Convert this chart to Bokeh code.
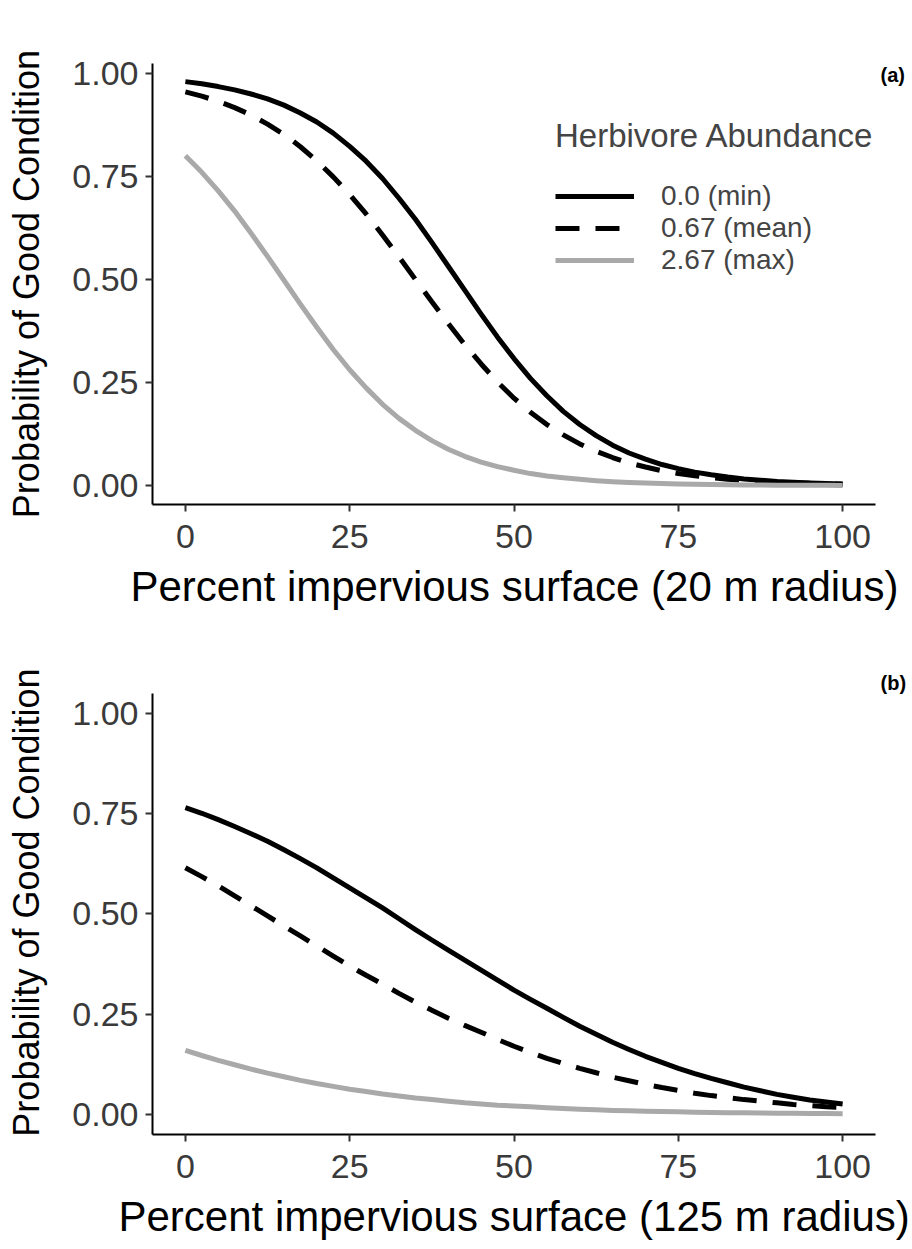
from bokeh.plotting import figure
from bokeh.layouts import column
from bokeh.models import Range1d, FixedTicker, Legend, LegendItem, Label, Title
from bokeh.embed import file_html
from bokeh.resources import INLINE

# ---- data ----
x_pct = [0, 2.5, 5, 7.5, 10, 12.5, 15, 17.5, 20, 22.5, 25, 27.5, 30, 32.5, 35, 37.5, 40,
         42.5, 45, 47.5, 50, 52.5, 55, 57.5, 60, 62.5, 65, 67.5, 70, 72.5, 75, 77.5, 80,
         82.5, 85, 87.5, 90, 92.5, 95, 97.5, 100]

# panel (a): 20 m radius
a_min = [0.980, 0.975, 0.968, 0.960, 0.950, 0.938, 0.923, 0.904, 0.882, 0.855,
         0.823, 0.787, 0.745, 0.697, 0.646, 0.590, 0.532, 0.474, 0.416, 0.360,
         0.308, 0.260, 0.218, 0.180, 0.148, 0.121, 0.098, 0.079, 0.064, 0.051,
         0.041, 0.0325, 0.026, 0.0205, 0.016, 0.0129, 0.010, 0.0081, 0.0064, 0.0051,
         0.0040]
a_mean = [0.955, 0.945, 0.932, 0.917, 0.899, 0.877, 0.852, 0.822, 0.788, 0.749,
          0.706, 0.659, 0.608, 0.555, 0.500, 0.446, 0.393, 0.342, 0.295, 0.251,
          0.212, 0.178, 0.148, 0.123, 0.101, 0.083, 0.068, 0.055, 0.045, 0.036,
          0.029, 0.024, 0.019, 0.0155, 0.0125, 0.0101, 0.0081, 0.0065, 0.0053, 0.0042,
          0.0034]
a_max = [0.800, 0.760, 0.715, 0.666, 0.612, 0.556, 0.498, 0.440, 0.384, 0.330,
         0.281, 0.237, 0.197, 0.163, 0.134, 0.109, 0.088, 0.071, 0.057, 0.046,
         0.037, 0.029, 0.023, 0.0187, 0.015, 0.0118, 0.0094, 0.0075, 0.0059, 0.0047,
         0.0037, 0.0030, 0.0023, 0.0019, 0.0015, 0.0012, 0.0009, 0.0007, 0.0006, 0.0005,
         0.0004]

# panel (b): 125 m radius
b_min = [0.765, 0.751, 0.735, 0.718, 0.700, 0.681, 0.660, 0.638, 0.615, 0.590,
         0.565, 0.540, 0.515, 0.488, 0.461, 0.435, 0.410, 0.385, 0.360, 0.335,
         0.310, 0.287, 0.265, 0.242, 0.220, 0.200, 0.180, 0.162, 0.145, 0.130,
         0.115, 0.102, 0.090, 0.079, 0.068, 0.059, 0.050, 0.043, 0.036, 0.031,
         0.026]
b_mean = [0.615, 0.593, 0.570, 0.545, 0.520, 0.495, 0.470, 0.445, 0.420, 0.395,
          0.370, 0.347, 0.325, 0.302, 0.280, 0.260, 0.240, 0.222, 0.205, 0.187,
          0.170, 0.155, 0.140, 0.127, 0.115, 0.104, 0.093, 0.084, 0.075, 0.067,
          0.060, 0.053, 0.047, 0.042, 0.037, 0.033, 0.029, 0.025, 0.022, 0.019,
          0.017]
b_max = [0.160, 0.147, 0.135, 0.124, 0.113, 0.103, 0.094, 0.085, 0.077, 0.070,
         0.063, 0.057, 0.051, 0.046, 0.041, 0.037, 0.033, 0.029, 0.026, 0.023,
         0.021, 0.019, 0.017, 0.015, 0.013, 0.0115, 0.010, 0.009, 0.008, 0.0072,
         0.0065, 0.0057, 0.005, 0.0045, 0.004, 0.0035, 0.003, 0.0028, 0.0025, 0.0022,
         0.002]

series_labels = ["0.0 (min)", "0.67 (mean)", "2.67 (max)"]
legend_title = "Herbivore Abundance"
x_ticks = [0, 25, 50, 75, 100]
x_tick_labels = ["0", "25", "50", "75", "100"]
y_ticks = [0, 0.25, 0.5, 0.75, 1.0]
y_tick_labels = ["0.00", "0.25", "0.50", "0.75", "1.00"]
y_title = "Probability of Good Condition"
x_titles = ["Percent impervious surface (20 m radius)", "Percent impervious surface (125 m radius)"]
panel_tags = ["(a)", "(b)"]

FONT = "Liberation Sans"
GRAY = "#A9A9A9"
X_LIMITS = (-5, 105)


def make_panel(height, mt, mb, y_range, y_bounds, x_title, title_offset, title_standoff,
               ys, tag, tag_y, show_legend):
    # frame spans 152..912 px; x data -5..105 occupy 152..875 px (723 px)
    x_end = X_LIMITS[0] + 760 * (X_LIMITS[1] - X_LIMITS[0]) / 723.0
    p = figure(width=912, height=height, x_range=Range1d(X_LIMITS[0], x_end),
               y_range=Range1d(*y_range),
               output_backend="svg", toolbar_location=None,
               min_border_left=152, min_border_right=0, min_border_top=mt, min_border_bottom=mb)
    p.xgrid.visible = False
    p.ygrid.visible = False
    p.outline_line_color = None
    p.background_fill_color = "white"
    p.border_fill_color = "white"

    for ax in (p.xaxis[0], p.yaxis[0]):
        ax.axis_line_color = "black"
        ax.axis_line_width = 2
        ax.major_tick_line_color = "#333333"
        ax.major_tick_line_width = 2
        ax.major_tick_out = 7
        ax.major_tick_in = 0
        ax.minor_tick_line_color = None
        ax.major_label_text_font = FONT
        ax.major_label_text_font_size = "34px"
        ax.major_label_text_color = "#3a3a3a"
        ax.axis_label_text_font = FONT
        ax.axis_label_text_font_style = "normal"
        ax.axis_label_text_color = "black"

    p.xaxis[0].bounds = X_LIMITS
    p.xaxis[0].ticker = FixedTicker(ticks=x_ticks)
    p.xaxis[0].major_label_overrides = {t: l for t, l in zip(x_ticks, x_tick_labels)}
    p.xaxis[0].major_label_standoff = 13

    # x-axis title, centred under the data area (frame is wider to hold the panel tag)
    p.add_layout(Title(text=x_title, align="left", offset=title_offset, standoff=title_standoff,
                       text_font=FONT, text_font_size="42px", text_font_style="normal",
                       text_color="black"), "below")

    if y_bounds is not None:
        p.yaxis[0].bounds = y_bounds
    p.yaxis[0].ticker = FixedTicker(ticks=y_ticks)
    p.yaxis[0].major_label_overrides = {t: l for t, l in zip(y_ticks, y_tick_labels)}
    p.yaxis[0].major_label_standoff = 7
    p.yaxis[0].axis_label = y_title
    p.yaxis[0].axis_label_text_font_size = "36px"
    p.yaxis[0].axis_label_standoff = 22

    r1 = p.line(x_pct, ys[0], line_color="black", line_width=5, line_join="round")
    r2 = p.line(x_pct, ys[1], line_color="black", line_width=5, line_dash="24 16")
    r3 = p.line(x_pct, ys[2], line_color=GRAY, line_width=5, line_join="round")

    if show_legend:
        leg = Legend(items=[LegendItem(label=series_labels[0], renderers=[r1]),
                            LegendItem(label=series_labels[1], renderers=[r2]),
                            LegendItem(label=series_labels[2], renderers=[r3])],
                     location=(403, 228), title=legend_title,
                     title_text_font=FONT, title_text_font_size="33px",
                     title_text_font_style="normal", title_standoff=25,
                     title_text_line_height=1.0,
                     label_text_font=FONT, label_text_font_size="28px",
                     label_text_line_height=0.95,
                     label_height=28, glyph_height=28, glyph_width=79,
                     label_standoff=27, spacing=0, padding=0, margin=0,
                     border_line_alpha=0, background_fill_alpha=0)
        p.add_layout(leg, "center")

    p.add_layout(Label(x=X_LIMITS[1], y=tag_y, x_offset=5, text=tag,
                       text_font=FONT, text_font_size="20px", text_font_style="bold",
                       text_align="left", text_baseline="middle", text_color="black"))
    return p


pa = make_panel(630, 63, 126, (-0.046, 1.024), None, x_titles[0], -22, 20,
                [a_min, a_mean, a_max], panel_tags[0], 0.995, True)
pb = make_panel(619, 40, 115, (-0.05, 1.107), (-0.05, 1.05), x_titles[1], -34, 20,
                [b_min, b_mean, b_max], panel_tags[1], 1.077, False)

layout = column(pa, pb, spacing=0)
open("out.html", "w").write(file_html(layout, INLINE))
